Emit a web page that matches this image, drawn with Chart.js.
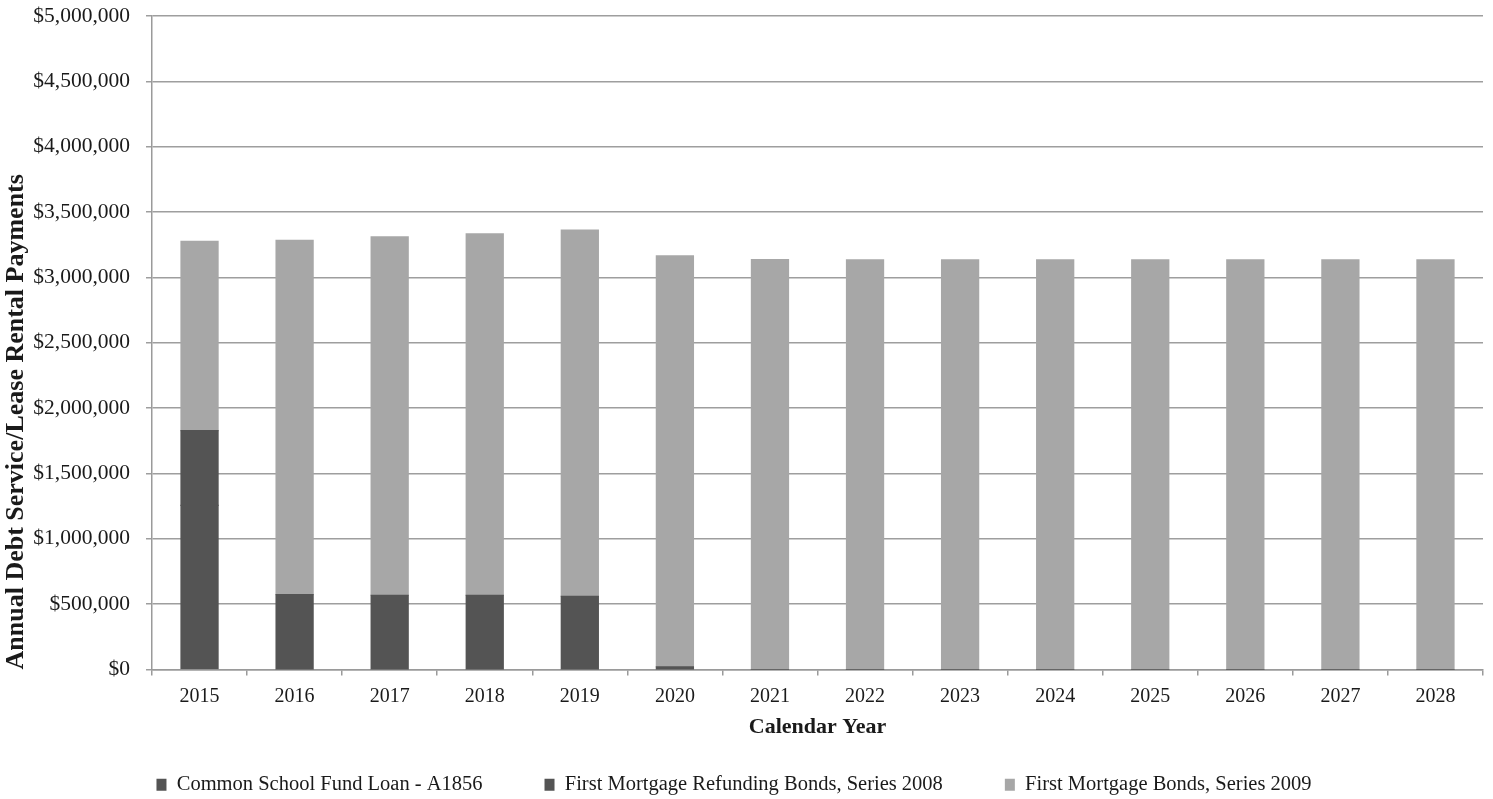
<!DOCTYPE html>
<html>
<head>
<meta charset="utf-8">
<script src="https://cdn.jsdelivr.net/npm/chart.js@4"></script>
<style>
  html, body { margin: 0; padding: 0; background: #ffffff; }
  #wrap { width: 1493px; height: 799px; position: relative; }
</style>
</head>
<body>
<div id="wrap"><canvas id="c"></canvas></div>
<script>
const years = ['2015','2016','2017','2018','2019','2020','2021','2022','2023','2024','2025','2026','2027','2028'];
const commonSchoolFundLoan = [1255000, 0, 0, 0, 0, 0, 0, 0, 0, 0, 0, 0, 0, 0];
const refundingBonds2008 = [572000, 573000, 568000, 567000, 560000, 20000, 0, 0, 0, 0, 0, 0, 0, 0];
const mortgageBonds2009 = [1448000, 2710000, 2742000, 2766000, 2801000, 3145000, 3136000, 3134000, 3134000, 3134000, 3134000, 3134000, 3134000, 3134000];
const seriesNames = ['Common School Fund Loan - A1856', 'First Mortgage Refunding Bonds, Series 2008', 'First Mortgage Bonds, Series 2009'];
const yTickValues = [0, 500000, 1000000, 1500000, 2000000, 2500000, 3000000, 3500000, 4000000, 4500000, 5000000];

const serif = '"Liberation Serif", "DejaVu Serif", serif';
const textColor = '#1a1a1a';

new Chart(document.getElementById('c'), {
  type: 'bar',
  data: {
    labels: years,
    datasets: [
      { label: seriesNames[0], data: commonSchoolFundLoan, backgroundColor: '#545454', borderWidth: 0, inflateAmount: 0.6 },
      { label: seriesNames[1], data: refundingBonds2008, backgroundColor: '#545454', borderWidth: 0, inflateAmount: 0.6 },
      { label: seriesNames[2], data: mortgageBonds2009, backgroundColor: '#a7a7a7', borderWidth: 0, inflateAmount: 0.6 }
    ]
  },
  options: {
    responsive: true,
    maintainAspectRatio: false,
    animation: false,
    devicePixelRatio: 1,
    categoryPercentage: 1.0,
    barPercentage: 0.39,
    layout: { padding: { left: -15, right: 10, top: 0, bottom: -6 } },
    plugins: {
      tooltip: { enabled: false },
      legend: {
        position: 'bottom',
        align: 'center',
        labels: {
          boxWidth: 10,
          boxHeight: 12,
          padding: 62,
          color: textColor,
          font: { family: serif, size: 20.5 }
        }
      }
    },
    scales: {
      x: {
        stacked: true,
        grid: { display: true, drawOnChartArea: false, offset: true, tickLength: 6, color: '#9a9a9a', lineWidth: 1.5 },
        border: { display: true, color: '#9a9a9a', width: 1.5 },
        ticks: { color: textColor, padding: 9, font: { family: serif, size: 20 } },
        title: { display: true, text: 'Calendar Year', color: textColor, padding: { top: 0, bottom: -28.5 }, font: { family: serif, size: 22, weight: 'bold' } },
        afterFit: (scale) => { scale.height = 43; }
      },
      y: {
        stacked: true,
        min: 0,
        max: 5000000,
        afterBuildTicks: (scale) => { scale.ticks = yTickValues.map(v => ({ value: v })); },
        grid: { color: '#9e9e9e', lineWidth: 1.5, tickLength: 6 },
        border: { display: true, color: '#9a9a9a', width: 1.5 },
        ticks: {
          color: textColor,
          padding: 16,
          font: { family: serif, size: 21.5 },
          callback: (v) => '$' + Number(v).toLocaleString('en-US')
        },
        title: { display: true, align: 'start', text: 'Annual Debt Service/Lease Rental Payments', color: textColor, padding: { top: 16, bottom: 0 }, font: { family: serif, size: 26, weight: 'bold' } },
        afterFit: (scale) => { scale.width = 167; scale.paddingTop = 16; scale.paddingBottom = 0; }
      }
    }
  }
});
</script>
</body>
</html>
